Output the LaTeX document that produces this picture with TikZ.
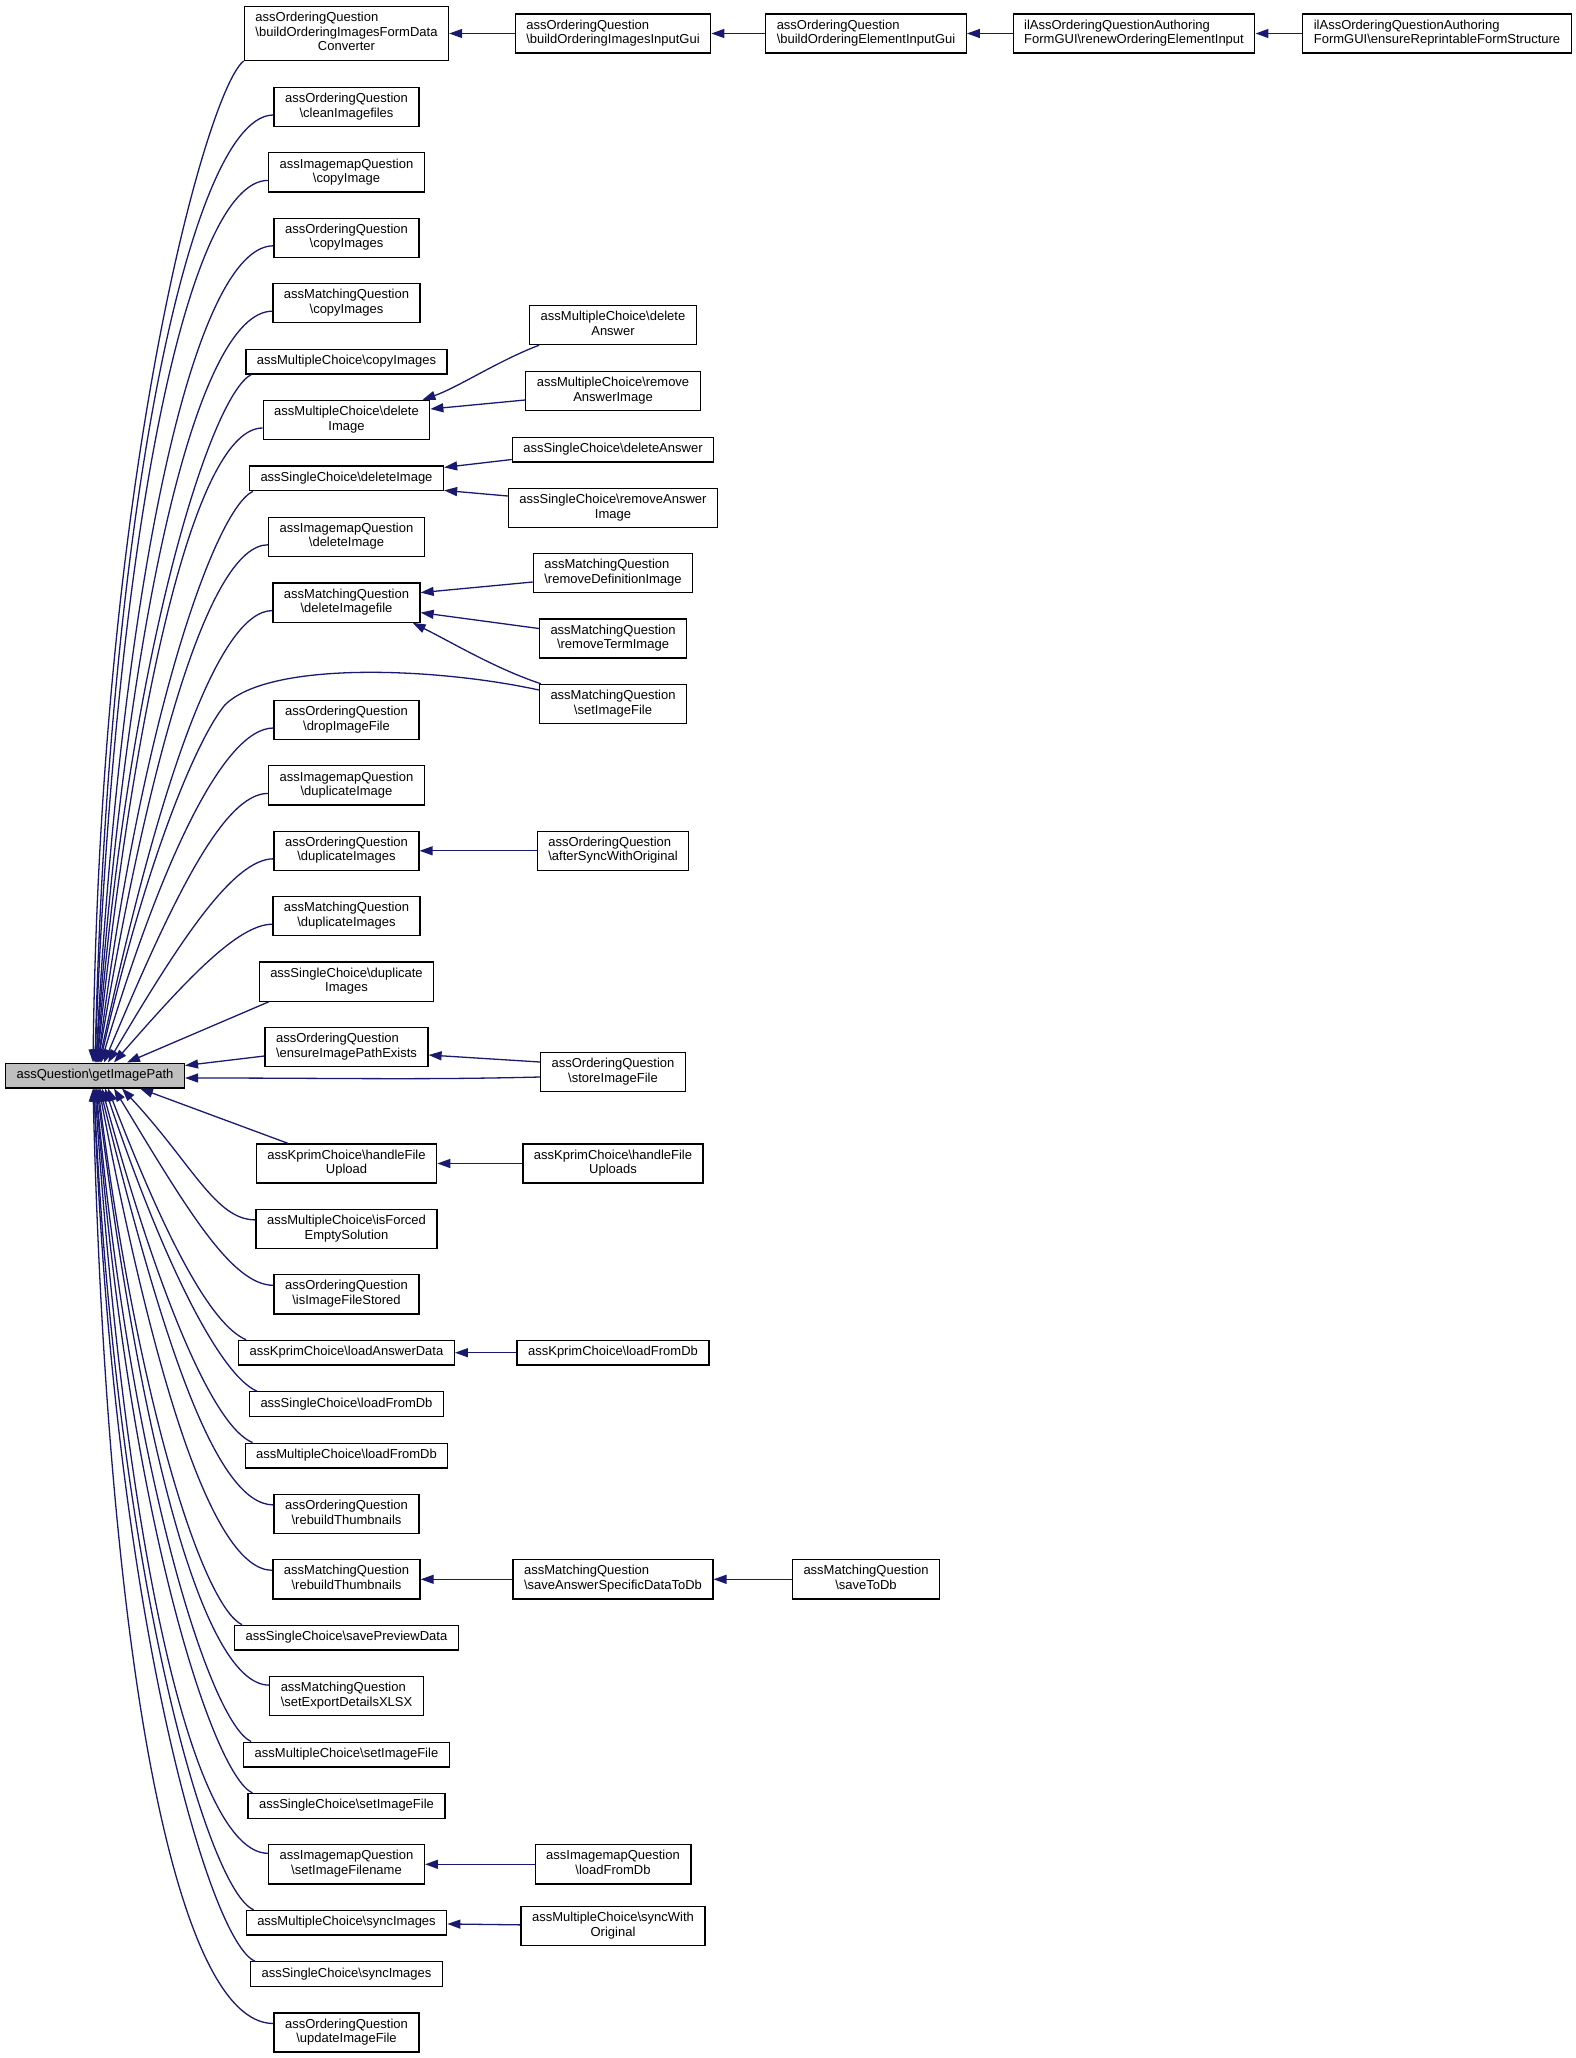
\documentclass[tikz,border=0pt]{standalone}
\usepackage{fontspec}
\setmainfont{Liberation Sans}
\usetikzlibrary{arrows.meta}
\definecolor{edgeblue}{HTML}{191970}
\definecolor{rootgray}{HTML}{BFBFBF}
\newcommand{\bk}{\textbackslash}
\newcommand{\labone}[1]{\strut#1}
\newcommand{\labtwo}[2]{\begin{tabular}{@{}l@{}}#1\\\multicolumn{1}{@{}c@{}}{#2}\end{tabular}}
\newcommand{\labthree}[3]{\begin{tabular}{@{}l@{}}#1\\#2\\\multicolumn{1}{@{}c@{}}{#3}\end{tabular}}
\tikzset{
    fn/.style={draw=black, fill=white, line width=1.3pt, inner xsep=11pt, inner ysep=5.1pt, font=\fontsize{13}{14.5}\selectfont},
    caller/.style={draw=edgeblue, line width=1.3pt, -{Triangle[length=13pt,width=9pt]}}
}
\begin{document}
\begin{tikzpicture}[x=1pt,y=-1pt]
        \useasboundingbox (0,0) rectangle (1576,2058);
        \node[fn, fill=rootgray] (root) at (95,1075.5) {\labone{assQuestion\bk getImagePath}};

        \node[fn] (oqboifdc) at (346.5,33.5) {\labthree{assOrderingQuestion}{\bk buildOrderingImagesFormData}{Converter}};
        \node[fn] (oqclean) at (346.5,107) {\labtwo{assOrderingQuestion}{\bk cleanImagefiles}};
        \node[fn] (iqcopy) at (346.5,172.4) {\labtwo{assImagemapQuestion}{\bk copyImage}};
        \node[fn] (oqcopy) at (346.5,237.8) {\labtwo{assOrderingQuestion}{\bk copyImages}};
        \node[fn] (mqcopy) at (346.5,303.2) {\labtwo{assMatchingQuestion}{\bk copyImages}};
        \node[fn] (mccopy) at (346.5,361.6) {\labone{assMultipleChoice\bk copyImages}};
        \node[fn] (mcdelimg) at (346.5,420) {\labtwo{assMultipleChoice\bk delete}{Image}};
        \node[fn] (scdelimg) at (346.5,478.4) {\labone{assSingleChoice\bk deleteImage}};
        \node[fn] (iqdelimg) at (346.5,536.8) {\labtwo{assImagemapQuestion}{\bk deleteImage}};
        \node[fn] (mqdelimg) at (346.5,602.6) {\labtwo{assMatchingQuestion}{\bk deleteImagefile}};
        \node[fn] (oqdrop) at (346.5,720) {\labtwo{assOrderingQuestion}{\bk dropImageFile}};
        \node[fn] (iqdup) at (346.5,785.4) {\labtwo{assImagemapQuestion}{\bk duplicateImage}};
        \node[fn] (oqdup) at (346.5,850.8) {\labtwo{assOrderingQuestion}{\bk duplicateImages}};
        \node[fn] (mqdup) at (346.5,916.2) {\labtwo{assMatchingQuestion}{\bk duplicateImages}};
        \node[fn] (scdup) at (346.5,981.6) {\labtwo{assSingleChoice\bk duplicate}{Images}};
        \node[fn] (oqensure) at (346.5,1047) {\labtwo{assOrderingQuestion}{\bk ensureImagePathExists}};
        \node[fn] (kchandle) at (346.5,1163.5) {\labtwo{assKprimChoice\bk handleFile}{Upload}};
        \node[fn] (mcforced) at (346.5,1228.9) {\labtwo{assMultipleChoice\bk isForced}{EmptySolution}};
        \node[fn] (oqstored) at (346.5,1294.3) {\labtwo{assOrderingQuestion}{\bk isImageFileStored}};
        \node[fn] (kcloadans) at (346.5,1352.7) {\labone{assKprimChoice\bk loadAnswerData}};
        \node[fn] (scload) at (346.5,1404.1) {\labone{assSingleChoice\bk loadFromDb}};
        \node[fn] (mcload) at (346.5,1455.5) {\labone{assMultipleChoice\bk loadFromDb}};
        \node[fn] (oqrebuild) at (346.5,1513.9) {\labtwo{assOrderingQuestion}{\bk rebuildThumbnails}};
        \node[fn] (mqrebuild) at (346.5,1579.3) {\labtwo{assMatchingQuestion}{\bk rebuildThumbnails}};
        \node[fn] (scpreview) at (346.5,1637.7) {\labone{assSingleChoice\bk savePreviewData}};
        \node[fn] (mqexport) at (346.5,1696.1) {\labtwo{assMatchingQuestion}{\bk setExportDetailsXLSX}};
        \node[fn] (mcsetimg) at (346.5,1754.5) {\labone{assMultipleChoice\bk setImageFile}};
        \node[fn] (scsetimg) at (346.5,1805.9) {\labone{assSingleChoice\bk setImageFile}};
        \node[fn] (iqsetimg) at (346.5,1864.3) {\labtwo{assImagemapQuestion}{\bk setImageFilename}};
        \node[fn] (mcsync) at (346.5,1922.7) {\labone{assMultipleChoice\bk syncImages}};
        \node[fn] (scsync) at (346.5,1974.1) {\labone{assSingleChoice\bk syncImages}};
        \node[fn] (oqupdate) at (346.5,2032.5) {\labtwo{assOrderingQuestion}{\bk updateImageFile}};

        \node[fn] (oqimggui) at (613,33.5) {\labtwo{assOrderingQuestion}{\bk buildOrderingImagesInputGui}};
        \node[fn] (mcdelans) at (613,325) {\labtwo{assMultipleChoice\bk delete}{Answer}};
        \node[fn] (mcremans) at (613,391) {\labtwo{assMultipleChoice\bk remove}{AnswerImage}};
        \node[fn] (scdelans) at (613,449.5) {\labone{assSingleChoice\bk deleteAnswer}};
        \node[fn] (scremans) at (613,508) {\labtwo{assSingleChoice\bk removeAnswer}{Image}};
        \node[fn] (mqremdef) at (613,573) {\labtwo{assMatchingQuestion}{\bk removeDefinitionImage}};
        \node[fn] (mqremterm) at (613,638.5) {\labtwo{assMatchingQuestion}{\bk removeTermImage}};
        \node[fn] (mqsetimg) at (613,704) {\labtwo{assMatchingQuestion}{\bk setImageFile}};
        \node[fn] (oqafter) at (613,850.8) {\labtwo{assOrderingQuestion}{\bk afterSyncWithOriginal}};
        \node[fn] (oqstore) at (613,1072) {\labtwo{assOrderingQuestion}{\bk storeImageFile}};
        \node[fn] (kchandles) at (613,1163.5) {\labtwo{assKprimChoice\bk handleFile}{Uploads}};
        \node[fn] (kcload) at (613,1352.7) {\labone{assKprimChoice\bk loadFromDb}};
        \node[fn] (mqsaveans) at (613,1579.3) {\labtwo{assMatchingQuestion}{\bk saveAnswerSpecificDataToDb}};
        \node[fn] (iqload) at (613,1864.3) {\labtwo{assImagemapQuestion}{\bk loadFromDb}};
        \node[fn] (mcsyncwo) at (613,1926) {\labtwo{assMultipleChoice\bk syncWith}{Original}};

        \node[fn] (oqelemgui) at (866,33.5) {\labtwo{assOrderingQuestion}{\bk buildOrderingElementInputGui}};
        \node[fn] (mqsave) at (866,1579.3) {\labtwo{assMatchingQuestion}{\bk saveToDb}};
        \node[fn] (renew) at (1134,33.5) {\labtwo{ilAssOrderingQuestionAuthoring}{FormGUI\bk renewOrderingElementInput}};
        \node[fn] (ensurerep) at (1437,33.5) {\labtwo{ilAssOrderingQuestionAuthoring}{FormGUI\bk ensureReprintableFormStructure}};

        \draw[caller] (oqboifdc.south west) .. controls +(-35,25) and +(8,-600) .. ([xshift=-2pt]root.north);
        \draw[caller] ([yshift=-8pt]oqclean.west) .. controls +(-80,0) and +(14,-569) .. (root.north);
        \draw[caller] ([yshift=-8pt]iqcopy.west) .. controls +(-80,0) and +(20,-530) .. (root.north);
        \draw[caller] ([yshift=-8pt]oqcopy.west) .. controls +(-78,0) and +(26,-490) .. ([xshift=1pt]root.north);
        \draw[caller] ([yshift=-8pt]mqcopy.west) .. controls +(-75,0) and +(32,-451) .. ([xshift=1pt]root.north);
        \draw[caller] ([xshift=6pt]mccopy.south west) .. controls +(-40,20) and +(32,-413) .. ([xshift=2pt]root.north);
        \draw[caller] ([yshift=-8pt]mcdelimg.west) .. controls +(-65,0) and +(40,-381) .. ([xshift=2pt]root.north);
        \draw[caller] ([xshift=4pt]scdelimg.south west) .. controls +(-38,18) and +(43,-343) .. ([xshift=3pt]root.north);
        \draw[caller] ([yshift=-8pt]iqdelimg.west) .. controls +(-58,0) and +(52,-311) .. ([xshift=3pt]root.north);
        \draw[caller] ([yshift=-8pt]mqdelimg.west) .. controls +(-55,0) and +(58,-271) .. ([xshift=4pt]root.north);
        \draw[caller] ([yshift=14pt]mqsetimg.west) .. controls +(-100,-22) and +(45,-45) .. ++(-314,15) .. controls +(-25,30) and +(49,-215) .. ([xshift=5pt]root.north);
        \draw[caller] ([yshift=-8pt]oqdrop.west) .. controls +(-50,0) and +(60,-200) .. ([xshift=6pt]root.north);
        \draw[caller] ([yshift=-8pt]iqdup.west) .. controls +(-45,0) and +(68,-162) .. ([xshift=9pt]root.north);
        \draw[caller] ([yshift=-8pt]oqdup.west) .. controls +(-40,0) and +(72,-122) .. ([xshift=13pt]root.north);
        \draw[caller] ([yshift=-8pt]mqdup.west) .. controls +(-35,0) and +(70,-80) .. ([xshift=19pt]root.north);
        \draw[caller] ([xshift=10pt]scdup.south west) -- ([xshift=32pt]root.north);
        \draw[caller] ([yshift=-9pt]oqensure.west) -- ([yshift=-3pt]root.north east);
        \draw[caller] ([yshift=-5pt]oqstore.west) .. controls +(-120,3) and +(150,0) .. ([yshift=-2.5pt]root.east);
        \draw[caller] ([yshift=10pt]oqstore.west) -- ([yshift=-8pt]oqensure.east);
        \draw[caller] ([xshift=32pt]kchandle.north west) -- ([xshift=45pt]root.south);

        \draw[caller] ([yshift=9pt]mcforced.west) .. controls +(-40,0) and +(70,75) .. ([xshift=27pt]root.south);
        \draw[caller] ([yshift=9pt]oqstored.west) .. controls +(-42,0) and +(72,119) .. ([xshift=19pt]root.south);
        \draw[caller] ([xshift=8pt]kcloadans.north west) .. controls +(-35,-15) and +(58,151) .. ([xshift=13pt]root.south);
        \draw[caller] ([xshift=8pt]scload.north west) .. controls +(-35,-15) and +(61,182) .. ([xshift=10pt]root.south);
        \draw[caller] ([xshift=8pt]mcload.north west) .. controls +(-38,-15) and +(58,213) .. ([xshift=7pt]root.south);
        \draw[caller] ([yshift=9pt]oqrebuild.west) .. controls +(-58,0) and +(62,250) .. ([xshift=5pt]root.south);
        \draw[caller] ([yshift=9pt]mqrebuild.west) .. controls +(-60,0) and +(55,289) .. ([xshift=4pt]root.south);
        \draw[caller] ([xshift=8pt]scpreview.north west) .. controls +(-38,-18) and +(41,322) .. ([xshift=3pt]root.south);
        \draw[caller] ([yshift=11pt]mqexport.west) .. controls +(-65,0) and +(44,359) .. ([xshift=2pt]root.south);
        \draw[caller] ([xshift=8pt]mcsetimg.north west) .. controls +(-40,-18) and +(36,392) .. ([xshift=1pt]root.south);
        \draw[caller] ([xshift=5pt]scsetimg.north west) .. controls +(-40,-18) and +(31,423) .. ([xshift=1pt]root.south);
        \draw[caller] ([yshift=11pt]iqsetimg.west) .. controls +(-75,0) and +(30,460) .. (root.south);
        \draw[caller] ([xshift=8pt]mcsync.north west) .. controls +(-45,-18) and +(23,493) .. ([xshift=-1pt]root.south);
        \draw[caller] ([xshift=5pt]scsync.north west) .. controls +(-45,-18) and +(19,524) .. ([xshift=-1pt]root.south);
        \draw[caller] ([yshift=9pt]oqupdate.west) .. controls +(-100,0) and +(14,561) .. ([xshift=-2pt]root.south);

        \draw[caller] (oqimggui) -- (oqboifdc);
        \draw[caller] (oqelemgui) -- (oqimggui);
        \draw[caller] (renew) -- (oqelemgui);
        \draw[caller] (ensurerep) -- (renew);
        \draw[caller] ([xshift=10pt]mcdelans.south west) .. controls +(-40,15) and +(35,-12) .. ([xshift=-8pt]mcdelimg.north east);
        \draw[caller] ([yshift=-9pt]mcremans.west) -- ([yshift=11pt]mcdelimg.east);
        \draw[caller] ([yshift=-10pt]scdelans.west) -- ([yshift=11pt]scdelimg.east);
        \draw[caller] ([yshift=12pt]scremans.west) -- ([yshift=-12pt]scdelimg.east);
        \draw[caller] ([yshift=-9pt]mqremdef.west) -- ([yshift=10pt]mqdelimg.east);
        \draw[caller] ([yshift=10pt]mqremterm.west) -- ([yshift=-10pt]mqdelimg.east);
        \draw[caller] ([xshift=2pt]mqsetimg.north west) .. controls +(-45,-15) and +(40,20) .. ([xshift=-8pt]mqdelimg.south east);
        \draw[caller] (oqafter) -- (oqdup);
        \draw[caller] (kchandles) -- (kchandle);
        \draw[caller] (kcload) -- (kcloadans);
        \draw[caller] (mqsaveans) -- (mqrebuild);
        \draw[caller] (mqsave) -- (mqsaveans);
        \draw[caller] (iqload) -- (iqsetimg);
        \draw[caller] (mcsyncwo) -- (mcsync);
\end{tikzpicture}
\end{document}
